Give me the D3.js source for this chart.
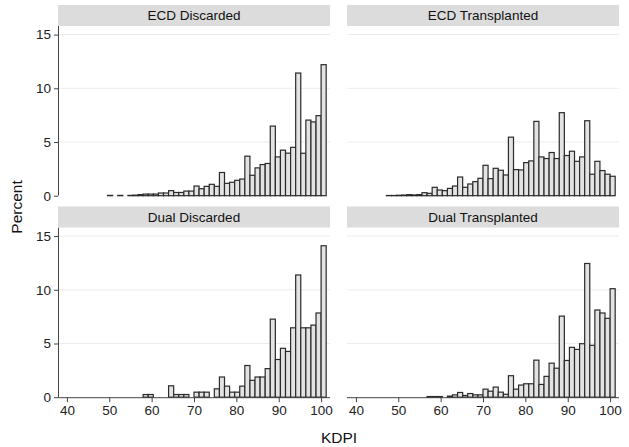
<!DOCTYPE html>
<html>
<head>
<meta charset="utf-8">
<script src="https://cdn.jsdelivr.net/npm/d3@7"></script>
<style>
  html, body { margin: 0; padding: 0; background: #fff; }
  svg { display: block; font-family: "Liberation Sans", Arial, Helvetica, sans-serif; }
</style>
</head>
<body>
<svg id="chart" width="629" height="447"></svg>
<script>
// ---- data ----
const binStart = 47.2;
const binWidth = 1.2;
const panelTitles = ["ECD Discarded", "ECD Transplanted", "Dual Discarded", "Dual Transplanted"];
const kdpiTicks = [40, 50, 60, 70, 80, 90, 100];
const percentTicks = [0, 5, 10, 15];

const ecdDiscarded = [0, 0, 0.03, 0, 0.03, 0, 0.03, 0.05, 0.1, 0.15, 0.15, 0.15, 0.25, 0.25, 0.47,
  0.3, 0.3, 0.43, 0.43, 0.9, 0.65, 0.87, 1.06, 0.87, 2.16, 1.15, 1.25, 1.43, 1.55, 3.68,
  1.9, 2.59, 2.9, 3.0, 6.48, 3.61, 4.24, 3.96, 4.5, 11.42, 3.95, 7.04, 6.87, 7.45, 12.2];
const ecdTransplanted = [0.02, 0.02, 0.04, 0.06, 0.1, 0.07, 0.1, 0.28, 0.22, 0.78, 0.53, 0.47, 0.68, 0.9, 1.74,
  0.78, 1.09, 1.31, 1.62, 2.83, 1.59, 2.55, 2.37, 1.93, 5.45, 2.43, 2.4, 3.08, 3.24, 6.92,
  3.61, 3.46, 4.02, 3.46, 7.73, 3.74, 4.14, 3.2, 3.61, 6.98, 2.0, 3.2, 2.34, 2.0, 1.81];
const dualDiscarded = [0, 0, 0, 0, 0, 0, 0, 0, 0, 0.25, 0.25, 0, 0, 0, 1.06,
  0.25, 0.25, 0.25, 0, 0.47, 0.47, 0.47, 0, 0.78, 1.88, 1.03, 0.47, 0.47, 1.03, 2.95,
  1.57, 1.88, 1.88, 2.66, 7.27, 3.51, 4.55, 4.26, 6.46, 11.38, 6.46, 6.46, 6.71, 7.84, 14.1];
const dualTransplanted = [0, 0, 0, 0, 0, 0, 0, 0, 0.06, 0.06, 0.06, 0, 0.1, 0.22, 0.44,
  0.16, 0.34, 0.22, 0.22, 0.75, 0.56, 0.94, 0.47, 0.27, 2.0, 0.75, 1.13, 1.25, 1.25, 3.45,
  1.19, 1.94, 3.17, 2.7, 7.55, 3.42, 4.64, 4.45, 4.98, 12.45, 4.83, 8.12, 7.84, 7.34, 10.1];

const panelValues = [ecdDiscarded, ecdTransplanted, dualDiscarded, dualTransplanted];

// ---- layout ----
const svg = d3.select("#chart");
const colX = [58, 347];
const plotW = 272;
const rowTop = [26, 227.5];
const plotH = 169.7;
const stripH = 21;

const x = d3.scaleLinear().domain([37.9, 102.1]);
const y = d3.scaleLinear().domain([0, 15.8]);

panelValues.forEach((vals, p) => {
  const col = p % 2, row = Math.floor(p / 2);
  const x0 = colX[col], y0 = rowTop[row];
  const xs = x.copy().range([0, plotW]);
  const ys = y.copy().range([plotH, 0]);
  const g = svg.append("g").attr("transform", `translate(${x0},${y0})`);

  // strip
  svg.append("rect")
    .attr("x", x0).attr("y", y0 - stripH)
    .attr("width", plotW).attr("height", stripH)
    .attr("fill", "#dcdcdc");
  svg.append("text")
    .attr("x", x0 + plotW / 2).attr("y", y0 - stripH / 2)
    .attr("text-anchor", "middle").attr("dominant-baseline", "central")
    .attr("font-size", 13.5).attr("fill", "#111")
    .text(panelTitles[p]);

  // gridlines
  g.selectAll("line.grid").data(percentTicks.filter(t => t > 0)).enter()
    .append("line").attr("class", "grid")
    .attr("x1", 0).attr("x2", plotW)
    .attr("y1", d => ys(d)).attr("y2", d => ys(d))
    .attr("stroke", "#ececec").attr("stroke-width", 1);

  // bars
  const bins = vals.map((v, i) => ({ x0: binStart + i * binWidth, x1: binStart + (i + 1) * binWidth, v }))
    .filter(d => d.v > 0);
  g.selectAll("rect.bar").data(bins).enter()
    .append("rect").attr("class", "bar")
    .attr("x", d => xs(d.x0))
    .attr("width", d => xs(d.x1) - xs(d.x0))
    .attr("y", d => ys(d.v))
    .attr("height", d => ys(0) - ys(d.v))
    .attr("fill", "#e3e3e3")
    .attr("stroke", "#2a2a2a").attr("stroke-width", 1.2);

  // y axis on left column
  if (col === 0) {
    const ya = g.append("g").call(d3.axisLeft(ys).tickValues(percentTicks).tickSize(4).tickPadding(3));
    ya.select(".domain").attr("stroke", "#444").attr("d", `M0.5,0V${plotH}`);
    ya.selectAll(".tick line").attr("stroke", "#444");
    ya.selectAll("text").attr("font-size", 13.5).attr("fill", "#222")
      .attr("font-family", "Liberation Sans, Arial, sans-serif");
  }
  // x axis on bottom row
  if (row === 1) {
    const xa = g.append("g").attr("transform", `translate(0,${plotH})`)
      .call(d3.axisBottom(xs).tickValues(kdpiTicks).tickSize(5).tickPadding(3));
    xa.select(".domain").attr("stroke", "#444").attr("d", `M0,0.5H${plotW}`);
    xa.selectAll(".tick line").attr("stroke", "#444");
    xa.selectAll("text").attr("font-size", 13.5).attr("fill", "#222")
      .attr("font-family", "Liberation Sans, Arial, sans-serif");
  }
});

// axis titles
svg.append("text")
  .attr("transform", "translate(16,207) rotate(-90)")
  .attr("text-anchor", "middle").attr("dominant-baseline", "central")
  .attr("font-size", 15.5).attr("fill", "#111")
  .text("Percent");
svg.append("text")
  .attr("x", 339).attr("y", 437)
  .attr("text-anchor", "middle").attr("dominant-baseline", "central")
  .attr("font-size", 15.5).attr("fill", "#111")
  .text("KDPI");
</script>
</body>
</html>
